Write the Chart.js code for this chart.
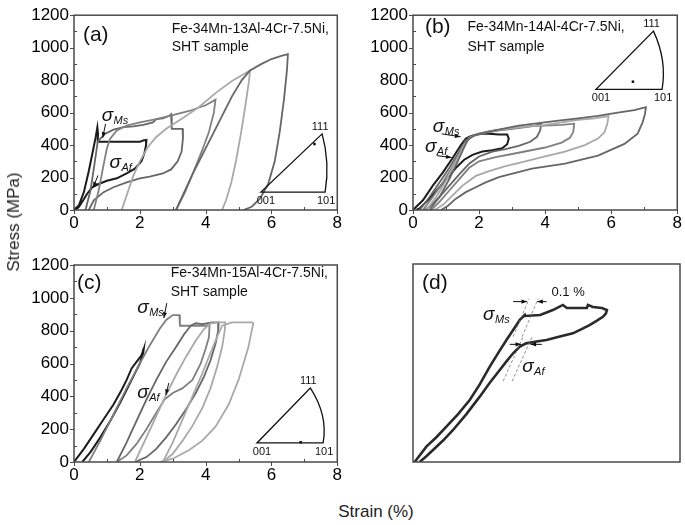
<!DOCTYPE html>
<html>
<head>
<meta charset="utf-8">
<script src="https://cdn.jsdelivr.net/npm/chart.js@4.4.1/dist/chart.umd.min.js"></script>
<style>
body { margin: 0; width: 685px; height: 525px; background: #fff; position: relative; overflow: hidden; font-family: "Liberation Sans", Arial, sans-serif; }
canvas { position: absolute; }
.axtitle { position: absolute; font-size: 17px; color: #222; white-space: nowrap; }
#ytitle { left: 14px; top: 222px; transform: translate(-50%, -50%) rotate(-90deg); }
#xtitle { left: 376px; top: 512px; transform: translate(-50%, -50%); }
</style>
</head>
<body>
<canvas id="pa" width="345" height="235" style="left:0;top:0"></canvas>
<canvas id="pb" width="340" height="235" style="left:345px;top:0"></canvas>
<canvas id="pc" width="345" height="250" style="left:0;top:240px"></canvas>
<canvas id="pd" width="340" height="250" style="left:345px;top:240px"></canvas>
<div class="axtitle" id="ytitle">Stress (MPa)</div>
<div class="axtitle" id="xtitle">Strain (%)</div>
<script>
// axis ticks
const strainTicks = [0, 2, 4, 6, 8];
const stressTicks = [0, 200, 400, 600, 800, 1000, 1200];

// (a) Fe-34Mn-13Al-4Cr-7.5Ni, strain %, stress MPa
const a1x = [0, 0.15, 0.3, 0.45, 0.58, 0.66, 0.71, 0.73, 0.72, 0.85, 1.2, 1.6, 2.0, 2.1, 2.2, 2.19, 2.14, 2.05, 1.85, 1.6, 1.3, 1.0, 0.75, 0.55, 0.4, 0.28, 0.15, 0.05];
const a1y = [0, 30, 110, 240, 370, 450, 510, 470, 420, 420, 420, 420, 420, 428, 432, 400, 350, 300, 255, 225, 195, 180, 160, 140, 100, 60, 20, 0];
const a2x = [0.35, 0.5, 0.62, 0.72, 0.8, 0.95, 1.2, 1.5, 1.8, 2.1, 2.4, 2.5, 2.7, 2.9, 2.95, 2.97, 3.3, 3.31, 3.27, 3.15, 2.95, 2.7, 2.3, 2.0, 1.6, 1.2, 0.9, 0.6, 0.45];
const a2y = [0, 120, 280, 420, 440, 470, 495, 510, 515, 525, 540, 560, 565, 580, 590, 500, 500, 440, 360, 300, 250, 225, 205, 195, 170, 140, 110, 60, 0];
const a3x = [0.6, 0.75, 0.9, 1.0, 1.1, 1.3, 1.6, 2.0, 2.5, 3.0, 3.5, 4.0, 4.3, 4.25, 4.1, 3.9, 3.6, 3.35, 3.1];
const a3y = [0, 120, 280, 380, 440, 490, 520, 540, 560, 585, 610, 645, 680, 600, 480, 370, 220, 100, 0];
const a4x = [1.45, 1.6, 1.8, 2.0, 2.25, 2.5, 2.8, 3.3, 3.8, 4.3, 4.8, 5.1, 5.35, 5.32, 5.22, 5.08, 4.92, 4.78, 4.62, 4.5];
const a4y = [0, 90, 210, 300, 390, 450, 500, 565, 635, 720, 795, 830, 860, 800, 660, 480, 300, 170, 60, 0];
const a5x = [3.1, 3.35, 3.6, 3.8, 4.1, 4.4, 4.8, 5.1, 5.35, 5.7, 6.0, 6.3, 6.5, 6.47, 6.38, 6.25, 6.1, 5.9, 5.65, 5.4, 5.15];
const a5y = [0, 110, 220, 300, 420, 540, 700, 800, 860, 900, 930, 950, 960, 860, 680, 480, 300, 160, 70, 20, 0];

// (b) Fe-34Mn-14Al-4Cr-7.5Ni
const b1x = [0, 0.3, 0.6, 0.9, 1.2, 1.45, 1.6, 1.75, 2.0, 2.3, 2.6, 2.85, 2.9, 2.85, 2.7, 2.4, 2.1, 1.8, 1.55, 1.3, 1.1, 0.8, 0.5, 0.2, 0.1];
const b1y = [0, 60, 150, 230, 320, 400, 440, 455, 470, 470, 465, 465, 440, 405, 380, 368, 360, 340, 310, 260, 210, 140, 70, 10, 0];
const b2x = [0.2, 0.5, 0.8, 1.1, 1.4, 1.6, 1.8, 2.2, 2.6, 3.0, 3.4, 3.7, 3.88, 3.85, 3.75, 3.55, 3.2, 2.8, 2.4, 2.0, 1.7, 1.4, 1.1, 0.8, 0.5, 0.35];
const b2y = [0, 80, 170, 260, 360, 430, 455, 475, 490, 500, 510, 520, 532, 490, 450, 420, 395, 375, 360, 330, 285, 220, 150, 80, 20, 0];
const b3x = [0.3, 0.6, 0.9, 1.2, 1.5, 1.7, 2.0, 2.5, 3.0, 3.5, 4.0, 4.5, 4.88, 4.85, 4.75, 4.5, 4.0, 3.5, 3.0, 2.5, 2.0, 1.7, 1.4, 1.1, 0.8, 0.55];
const b3y = [0, 80, 170, 270, 380, 445, 470, 490, 505, 515, 520, 525, 532, 480, 445, 415, 385, 365, 345, 325, 300, 260, 190, 120, 50, 0];
const b4x = [0.4, 0.7, 1.0, 1.3, 1.55, 1.75, 2.0, 2.5, 3.0, 3.5, 4.0, 4.5, 5.0, 5.5, 5.92, 5.88, 5.8, 5.6, 5.2, 4.6, 4.0, 3.4, 2.8, 2.3, 1.9, 1.5, 1.2, 0.9, 0.65];
const b4y = [0, 80, 180, 300, 400, 450, 470, 490, 505, 515, 525, 540, 555, 565, 578, 530, 480, 440, 400, 360, 330, 300, 270, 240, 210, 150, 90, 30, 0];
const b5x = [0.5, 0.8, 1.1, 1.4, 1.65, 1.85, 2.2, 2.7, 3.2, 3.8, 4.4, 5.0, 5.6, 6.2, 6.7, 7.05, 7.02, 6.95, 6.8, 6.4, 5.6, 4.6, 3.6, 2.6, 2.2, 1.9, 1.6, 1.3, 1.05, 0.85];
const b5y = [0, 80, 190, 320, 430, 460, 480, 500, 520, 535, 550, 565, 580, 600, 615, 633, 590, 540, 470, 407, 335, 285, 255, 203, 170, 140, 110, 70, 25, 0];

// (c) Fe-34Mn-15Al-4Cr-7.5Ni
const c1x = [0, 0.3, 0.6, 0.9, 1.2, 1.45, 1.6, 1.75, 1.9, 2.05, 2.12, 2.1, 2.0, 1.85, 1.75, 1.6, 1.4, 1.1, 0.8, 0.5, 0.25];
const c1y = [0, 80, 170, 260, 350, 440, 500, 570, 610, 650, 690, 660, 600, 540, 500, 440, 360, 250, 150, 60, 0];
const c2x = [0.45, 0.8, 1.2, 1.6, 2.0, 2.3, 2.6, 2.8, 3.0, 3.2, 3.22, 3.6, 4.0, 4.12, 4.1, 4.0, 3.85, 3.6, 3.3, 3.0, 2.75, 2.5, 2.2, 1.9, 1.6, 1.3];
const c2y = [0, 130, 290, 450, 600, 710, 810, 865, 895, 895, 830, 830, 830, 835, 760, 690, 600, 500, 450, 420, 380, 300, 200, 110, 40, 0];
const c3x = [1.3, 1.6, 1.9, 2.2, 2.5, 2.8, 3.1, 3.35, 3.55, 3.7, 3.9, 4.2, 4.4, 4.38, 4.3, 4.15, 3.95, 3.7, 3.4, 3.1, 2.8, 2.5, 2.2, 1.85];
const c3y = [0, 120, 250, 380, 500, 610, 700, 780, 830, 845, 840, 850, 850, 800, 720, 620, 520, 420, 320, 230, 150, 80, 30, 0];
const c4x = [1.85, 2.2, 2.5, 2.8, 3.1, 3.4, 3.7, 3.95, 4.15, 4.4, 4.6, 4.58, 4.5, 4.35, 4.15, 3.9, 3.6, 3.3, 3.0, 2.7];
const c4y = [0, 150, 280, 410, 530, 640, 740, 810, 845, 850, 850, 800, 700, 580, 450, 330, 220, 130, 50, 0];
const c5x = [2.7, 3.0, 3.3, 3.6, 3.9, 4.1, 4.3, 4.5, 4.8, 5.1, 5.4, 5.45, 5.4, 5.3, 5.15, 5.0, 4.7, 4.3, 3.9, 3.5, 3.0, 2.6];
const c5y = [0, 120, 260, 400, 540, 640, 740, 830, 850, 850, 850, 845, 800, 700, 600, 500, 350, 215, 130, 73, 20, 0];

// (d) single loop, enlarged (no scale shown)
const d1x = [0.05, 0.4, 0.7, 1.0, 1.35, 1.7, 2.0, 2.3, 2.55, 2.8, 3.0, 3.2, 3.35, 3.36, 3.81, 4.19, 4.49, 4.61, 4.79, 5.21, 5.24, 5.39, 5.66, 5.81, 5.78, 5.69, 5.5, 5.29, 5.05, 4.79, 4.4, 4.0, 3.7, 3.39, 3.2, 3.0, 2.8, 2.6, 2.3, 2.0, 1.6, 1.2, 0.9, 0.6, 0.4, 0.2];
const d1y = [0, 93, 150, 214, 290, 376, 470, 578, 660, 739, 800, 861, 891, 885, 891, 921, 952, 933, 933, 933, 952, 939, 933, 921, 900, 880, 855, 830, 805, 780, 760, 739, 730, 719, 700, 659, 610, 558, 480, 396, 290, 194, 130, 73, 35, 0];
const dMs1x = [3.0, 3.48], dMs1y = [760, 990];
const dMs2x = [3.27, 3.75], dMs2y = [760, 990];
const dAf1x = [2.7, 3.3], dAf1y = [490, 760];
const dAf2x = [2.97, 3.57], dAf2y = [490, 760];

function series(x, y, color, width, dash) {
    return {
        data: x.map((v, i) => ({ x: v, y: y[i] })),
        showLine: true,
        borderColor: color,
        borderWidth: width || 1.8,
        borderDash: dash || [],
        pointRadius: 0,
        tension: 0,
        fill: false
    };
}

const BLACK = '#1c1c1c', DARK = '#666666', MID = '#808080', LIGHT = '#a9a9a9';

// frame round the plot and inside / outside tick marks
function framePlugin(showTicks) {
    return {
        id: 'frame',
        afterDraw(chart) {
            const ctx = chart.ctx, a = chart.chartArea;
            const sx = chart.scales.x, sy = chart.scales.y;
            ctx.save();
            ctx.strokeStyle = '#4a4a4a';
            ctx.lineWidth = 1.5;
            ctx.strokeRect(a.left, a.top, a.right - a.left, a.bottom - a.top);
            if (showTicks) {
                ctx.lineWidth = 1;
                ctx.beginPath();
                for (let v = 0; v <= 8; v += 1) {
                    const p = Math.round(sx.getPixelForValue(v)) + 0.5;
                    if (v % 2 == 0) { ctx.moveTo(p, a.bottom); ctx.lineTo(p, a.bottom + 4); }
                    else { ctx.moveTo(p, a.bottom); ctx.lineTo(p, a.bottom - 3); }
                }
                for (let v = 0; v <= 1200; v += 100) {
                    const p = Math.round(sy.getPixelForValue(v)) + 0.5;
                    if (v % 200 == 0) { ctx.moveTo(a.left, p); ctx.lineTo(a.left - 4, p); }
                    else { ctx.moveTo(a.left, p); ctx.lineTo(a.left + 3, p); }
                }
                ctx.stroke();
            }
            ctx.restore();
        }
    };
}

function arrow(ctx, x1, y1, x2, y2) {
    const ang = Math.atan2(y2 - y1, x2 - x1);
    ctx.beginPath();
    ctx.moveTo(x1, y1);
    ctx.lineTo(x2, y2);
    ctx.stroke();
    ctx.beginPath();
    ctx.moveTo(x2, y2);
    ctx.lineTo(x2 - 6 * Math.cos(ang - 0.35), y2 - 6 * Math.sin(ang - 0.35));
    ctx.lineTo(x2 - 6 * Math.cos(ang + 0.35), y2 - 6 * Math.sin(ang + 0.35));
    ctx.closePath();
    ctx.fill();
}

// texts, sigma labels, arrows and the inverse pole figure
function notesPlugin(notes) {
    return {
        id: 'notes',
        afterDraw(chart) {
            const ctx = chart.ctx;
            const X = v => chart.scales.x.getPixelForValue(v);
            const Y = v => chart.scales.y.getPixelForValue(v);
            ctx.save();
            ctx.fillStyle = '#111';
            ctx.strokeStyle = '#111';
            ctx.lineWidth = 1;
            ctx.textBaseline = 'middle';
            for (const n of notes) {
                if (n.t == 'text') {
                    ctx.font = n.size + 'px "Liberation Sans", Arial, sans-serif';
                    ctx.textAlign = n.align || 'left';
                    ctx.fillText(n.s, X(n.x), Y(n.y));
                } else if (n.t == 'sigma') {
                    ctx.textAlign = 'left';
                    ctx.font = 'italic 19px "Liberation Sans", Arial, sans-serif';
                    const px = X(n.x), py = Y(n.y);
                    ctx.fillText('σ', px, py);
                    const w = ctx.measureText('σ').width;
                    ctx.font = 'italic 11px "Liberation Sans", Arial, sans-serif';
                    ctx.fillText(n.sub, px + w + 0.5, py + 5);
                } else if (n.t == 'arrow') {
                    arrow(ctx, X(n.x1), Y(n.y1), X(n.x2), Y(n.y2));
                } else if (n.t == 'ipf') {
                    const ox = X(n.o[0]), oy = Y(n.o[1]);
                    const rx = X(n.r[0]), ry = Y(n.r[1]);
                    const px = X(n.p[0]), py = Y(n.p[1]);
                    ctx.lineWidth = 1.3;
                    ctx.beginPath();
                    ctx.moveTo(ox, oy);
                    ctx.lineTo(rx, ry);
                    ctx.quadraticCurveTo(rx + 5, (ry + py) / 2, px, py);
                    ctx.closePath();
                    ctx.stroke();
                    ctx.fillRect(X(n.dot[0]) - 1, Y(n.dot[1]) - 1, 2.5, 2.5);
                    ctx.font = '11px "Liberation Sans", Arial, sans-serif';
                    ctx.textAlign = 'center';
                    ctx.fillText('001', ox + 5, oy + 9);
                    ctx.fillText('101', rx + 1, ry + 9);
                    ctx.fillText('111', px - 2, py - 7);
                    ctx.lineWidth = 1;
                }
            }
            ctx.restore();
        }
    };
}

function makePanel(id, datasets, notes, box) {
    const font = { family: '"Liberation Sans", Arial, sans-serif', size: 17 };
    return new Chart(document.getElementById(id), {
        type: 'scatter',
        data: { datasets: datasets },
        options: {
            responsive: false,
            animation: false,
            layout: { padding: { top: box.top, right: box.right, left: 0, bottom: 0 } },
            plugins: { legend: { display: false }, tooltip: { enabled: false } },
            scales: {
                x: {
                    type: 'linear', min: 0, max: 8,
                    afterFit: s => { s.height = box.xh; },
                    afterBuildTicks: s => { s.ticks = strainTicks.map(v => ({ value: v })); },
                    grid: { display: false, drawTicks: false },
                    border: { display: false },
                    ticks: { display: box.ticks, autoSkip: false, maxRotation: 0, padding: 3, color: '#000', font: font, callback: v => String(v) }
                },
                y: {
                    type: 'linear', min: 0, max: 1200,
                    afterFit: s => { s.width = box.yw; },
                    afterBuildTicks: s => { s.ticks = stressTicks.map(v => ({ value: v })); },
                    grid: { display: false, drawTicks: false },
                    border: { display: false },
                    ticks: { display: box.ticks, autoSkip: false, padding: 5, color: '#000', font: font, callback: v => String(v) }
                }
            }
        },
        plugins: [framePlugin(box.ticks), notesPlugin(notes)]
    });
}

makePanel('pa', [
    series(a5x, a5y, DARK),
    series(a4x, a4y, LIGHT),
    series(a3x, a3y, MID),
    series(a2x, a2y, DARK),
    series(a1x, a1y, BLACK, 2)
], [
    { t: 'text', s: '(a)', x: 0.27, y: 1078, size: 21 },
    { t: 'text', s: 'Fe-34Mn-13Al-4Cr-7.5Ni,', x: 2.97, y: 1114, size: 14 },
    { t: 'text', s: 'SHT sample', x: 2.97, y: 1005, size: 14 },
    { t: 'sigma', sub: 'Ms', x: 0.84, y: 579 },
    { t: 'arrow', x1: 0.96, y1: 530, x2: 0.87, y2: 445 },
    { t: 'sigma', sub: 'Af', x: 1.08, y: 292 },
    { t: 'arrow', x1: 0.73, y1: 213, x2: 0.58, y2: 138 },
    { t: 'ipf', o: [5.68, 110], r: [7.63, 110], p: [7.54, 469], dot: [7.3, 408] }
], { top: 13, right: 5, xh: 25, yw: 74, ticks: true });

makePanel('pb', [
    series(b5x, b5y, DARK),
    series(b4x, b4y, LIGHT),
    series(b3x, b3y, MID),
    series(b2x, b2y, DARK),
    series(b1x, b1y, BLACK, 2)
], [
    { t: 'text', s: '(b)', x: 0.36, y: 1127, size: 21 },
    { t: 'text', s: 'Fe-34Mn-14Al-4Cr-7.5Ni,', x: 1.65, y: 1127, size: 14 },
    { t: 'text', s: 'SHT sample', x: 1.65, y: 1005, size: 14 },
    { t: 'sigma', sub: 'Ms', x: 0.6, y: 512 },
    { t: 'arrow', x1: 0.87, y1: 469, x2: 1.44, y2: 451 },
    { t: 'sigma', sub: 'Af', x: 0.36, y: 390 },
    { t: 'arrow', x1: 0.72, y1: 335, x2: 1.17, y2: 323 },
    { t: 'ipf', o: [5.54, 743], r: [7.54, 743], p: [7.28, 1102], dot: [6.65, 792] }
], { top: 13, right: 5, xh: 25, yw: 68, ticks: true });

makePanel('pc', [
    series(c5x, c5y, LIGHT),
    series(c4x, c4y, LIGHT),
    series(c3x, c3y, DARK),
    series(c2x, c2y, MID),
    series(c1x, c1y, BLACK, 2)
], [
    { t: 'text', s: '(c)', x: 0.09, y: 1090, size: 21 },
    { t: 'text', s: 'Fe-34Mn-15Al-4Cr-7.5Ni,', x: 2.94, y: 1151, size: 14 },
    { t: 'text', s: 'SHT sample', x: 2.94, y: 1035, size: 14 },
    { t: 'sigma', sub: 'Ms', x: 1.92, y: 938 },
    { t: 'arrow', x1: 2.82, y1: 968, x2: 2.73, y2: 877 },
    { t: 'sigma', sub: 'Af', x: 1.92, y: 420 },
    { t: 'arrow', x1: 2.88, y1: 481, x2: 2.79, y2: 408 },
    { t: 'ipf', o: [5.56, 116], r: [7.57, 116], p: [7.18, 451], dot: [6.88, 122] }
], { top: 25, right: 5, xh: 28, yw: 74, ticks: true });

makePanel('pd', [
    series(dMs1x, dMs1y, '#777', 0.8, [3, 2]),
    series(dMs2x, dMs2y, '#777', 0.8, [3, 2]),
    series(dAf1x, dAf1y, '#777', 0.8, [3, 2]),
    series(dAf2x, dAf2y, '#777', 0.8, [3, 2]),
    series(d1x, d1y, '#2a2a2a', 2.6)
], [
    { t: 'text', s: '(d)', x: 0.27, y: 1085, size: 21 },
    { t: 'text', s: '0.1 %', x: 4.15, y: 1030, size: 13 },
    { t: 'arrow', x1: 3.0, y1: 972, x2: 3.42, y2: 972 },
    { t: 'arrow', x1: 4.0, y1: 972, x2: 3.72, y2: 972 },
    { t: 'arrow', x1: 2.9, y1: 713, x2: 3.24, y2: 713 },
    { t: 'arrow', x1: 3.86, y1: 713, x2: 3.52, y2: 713 },
    { t: 'sigma', sub: 'Ms', x: 2.1, y: 890 },
    { t: 'sigma', sub: 'Af', x: 3.27, y: 576 }
], { top: 24, right: 5, xh: 28, yw: 68, ticks: false });
</script>
</body>
</html>
